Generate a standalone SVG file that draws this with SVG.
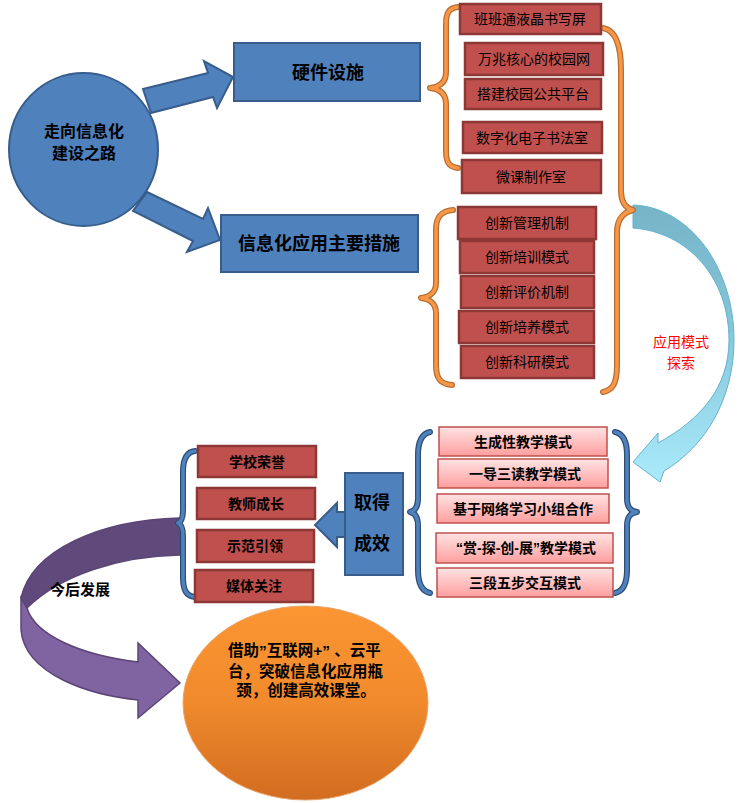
<svg xmlns="http://www.w3.org/2000/svg" width="740" height="803" viewBox="0 0 740 803">
<style>
text{font-family:"Liberation Sans","Noto Sans CJK SC",sans-serif;fill:#000;}
.c{text-anchor:middle;}
.b{font-weight:bold;}
.blue{fill:#4F81BD;stroke:#385D8A;stroke-width:2;}
.red{fill:#C0504D;stroke:#8C3836;stroke-width:2.5;}
.pink{fill:url(#pk);stroke:#C0504D;stroke-width:1.5;}
.brO1{fill:none;stroke:#B66D31;stroke-width:6;stroke-linecap:round;stroke-linejoin:round;}
.brO2{fill:none;stroke:#F79646;stroke-width:3.5;stroke-linecap:round;stroke-linejoin:round;}
.brB1{fill:none;stroke:#2C4D75;stroke-width:6;stroke-linecap:round;stroke-linejoin:round;}
.brB2{fill:none;stroke:#4F81BD;stroke-width:3.5;stroke-linecap:round;stroke-linejoin:round;}
.t14{font-size:14px;}
.t18{font-size:18px;}
</style>
<defs>
<linearGradient id="pk" x1="0" y1="0" x2="0" y2="1">
<stop offset="0" stop-color="#FFE3E3"/><stop offset="1" stop-color="#FF9E9E"/>
</linearGradient>
<linearGradient id="cy" gradientUnits="userSpaceOnUse" x1="0" y1="205" x2="0" y2="482">
<stop offset="0" stop-color="#76B4C8"/><stop offset="0.45" stop-color="#86C6D9"/><stop offset="1" stop-color="#A9EAFB"/>
</linearGradient>
<linearGradient id="og" x1="0" y1="0" x2="0" y2="1">
<stop offset="0" stop-color="#FC9532"/><stop offset="0.5" stop-color="#F08A2C"/><stop offset="1" stop-color="#D26C20"/>
</linearGradient>
</defs>

<g id="connectors">
<polygon class="blue" points="143,89 208,73 204,61 233,77 217,108 213,97 151,113"/>
<polygon class="blue" points="147,192 203,219 208,208 220,240 187,252 193,241 133,211"/>
<polygon class="blue" points="347,512 337,512 337,503 315,525 337,547 337,537 347,537"/>
<path d="M180,518 C100,520 32,550 21,598 L27,608 C60,575 120,556 180,555 Z" fill="#604A7B" stroke="#5B4575" stroke-width="1.5"/>
<path d="M21,598 L21,630 C25,675 90,695 138,700 L138,718 L180,683 L138,643 L138,662 C80,655 35,635 27,608 Z" fill="#8064A2" stroke="#5B4575" stroke-width="1.5"/>
<path d="M633,205 C690,207 734,268 734,340 C734,398 706,446 664,471 L660,482 L633,462 L658,433 L658,443 C700,420 729,388 729,340 C729,278 688,232 633,228 Z" fill="url(#cy)" stroke="#62B3CF" stroke-width="1"/>
<g id="brace-hw">
<path class="brO1" d="M458,7 C448,8 446,14 446,25 L446,72 C446,82 440,87 430,88 C440,89 446,94 446,104 L446,150 C446,161 448,167 458,168"/>
<path class="brO2" d="M458,7 C448,8 446,14 446,25 L446,72 C446,82 440,87 430,88 C440,89 446,94 446,104 L446,150 C446,161 448,167 458,168"/>
</g>
<g id="brace-app">
<path class="brO1" d="M453,210 C440,211 436,218 436,230 L436,283 C436,292 430,297 421,298 C430,299 436,304 436,313 L436,365 C436,378 440,384 452,385"/>
<path class="brO2" d="M453,210 C440,211 436,218 436,230 L436,283 C436,292 430,297 421,298 C430,299 436,304 436,313 L436,365 C436,378 440,384 452,385"/>
</g>
<g id="brace-big">
<path class="brO1" d="M603,28 C615,30 621,45 621,70 L621,190 C621,202 625,208 633,210 C625,212 617,218 617,232 L617,365 C617,385 612,390 603,392"/>
<path class="brO2" d="M603,28 C615,30 621,45 621,70 L621,190 C621,202 625,208 633,210 C625,212 617,218 617,232 L617,365 C617,385 612,390 603,392"/>
</g>
<g id="brace-modes">
<path class="brB1" d="M430,432 C421,434 418,442 418,455 L418,498 C418,507 415,511 410,512 C415,513 418,517 418,526 L418,570 C418,583 421,591 430,593"/>
<path class="brB2" d="M430,432 C421,434 418,442 418,455 L418,498 C418,507 415,511 410,512 C415,513 418,517 418,526 L418,570 C418,583 421,591 430,593"/>
<path class="brB1" d="M615,432 C624,434 627,442 627,455 L627,498 C627,507 630,511 637,512 C630,513 627,517 627,526 L627,570 C627,583 624,591 615,593"/>
<path class="brB2" d="M615,432 C624,434 627,442 627,455 L627,498 C627,507 630,511 637,512 C630,513 627,517 627,526 L627,570 C627,583 624,591 615,593"/>
</g>
<g id="brace-results">
<path class="brB1" d="M195,451 C186,452 183,460 183,472 L183,510 C183,518 181,522 178,523 C181,524 183,528 183,536 L183,577 C183,590 186,596 195,597"/>
<path class="brB2" d="M195,451 C186,452 183,460 183,472 L183,510 C183,518 181,522 178,523 C181,524 183,528 183,536 L183,577 C183,590 186,596 195,597"/>
</g>
<text x="681" y="347" class="c t14" style="fill:#FF0000">应用模式</text>
<text x="681" y="368" class="c t14" style="fill:#FF0000">探索</text>
<text x="50" y="595" class="b" style="font-size:15px">今后发展</text>
</g>

<g id="root">
<ellipse cx="83.5" cy="149.5" rx="74.5" ry="76.5" class="blue" stroke-width="2.5"/>
<text x="84" y="137" class="c b" style="font-size:16px">走向信息化</text>
<text x="84" y="159" class="c b" style="font-size:16px">建设之路</text>
</g>
<g id="hardware">
<rect x="234" y="43" width="186" height="58" class="blue"/>
<text x="328" y="78.5" class="c b t18">硬件设施</text>
</g>
<g id="measures">
<rect x="221" y="215" width="197" height="57" class="blue"/>
<text x="319" y="250" class="c b t18">信息化应用主要措施</text>
</g>

<g id="hw1"><rect x="460" y="4" width="141" height="30" class="red"/><text x="530" y="24" class="c t14">班班通液晶书写屏</text></g>
<g id="hw2"><rect x="465" y="43" width="138" height="32" class="red"/><text x="534" y="64" class="c t14">万兆核心的校园网</text></g>
<g id="hw3"><rect x="465" y="79" width="136" height="30" class="red"/><text x="533" y="99" class="c t14">搭建校园公共平台</text></g>
<g id="hw4"><rect x="463" y="122" width="139" height="31" class="red"/><text x="532" y="143" class="c t14">数字化电子书法室</text></g>
<g id="hw5"><rect x="462" y="160" width="139" height="33" class="red"/><text x="531" y="182" class="c t14">微课制作室</text></g>

<g id="m1"><rect x="458" y="207" width="138" height="32" class="red"/><text x="527" y="228" class="c t14">创新管理机制</text></g>
<g id="m2"><rect x="460" y="241" width="134" height="32" class="red"/><text x="527" y="262" class="c t14">创新培训模式</text></g>
<g id="m3"><rect x="461" y="276" width="133" height="32" class="red"/><text x="527" y="297" class="c t14">创新评价机制</text></g>
<g id="m4"><rect x="459" y="311" width="135" height="32" class="red"/><text x="527" y="332" class="c t14">创新培养模式</text></g>
<g id="m5"><rect x="461" y="346" width="133" height="32" class="red"/><text x="527" y="367" class="c t14">创新科研模式</text></g>

<g id="p1"><rect x="439" y="427" width="168" height="29" class="pink"/><text x="523" y="446.5" class="c b t14">生成性教学模式</text></g>
<g id="p2"><rect x="438" y="459" width="170" height="29" class="pink"/><text x="525" y="478.5" class="c b t14">一导三读教学模式</text></g>
<g id="p3"><rect x="437" y="494" width="172" height="29" class="pink"/><text x="523" y="513.5" class="c b t14">基于网络学习小组合作</text></g>
<g id="p4"><rect x="436" y="533" width="177" height="30" class="pink"/><text x="526" y="553" class="c b t14">“赏-探-创-展”教学模式</text></g>
<g id="p5"><rect x="437" y="568" width="176" height="29" class="pink"/><text x="525" y="587.5" class="c b t14">三段五步交互模式</text></g>

<g id="results">
<rect x="345" y="473" width="58" height="102" class="blue"/>
<text x="372" y="508.5" class="c b t18">取得</text>
<text x="372" y="549.5" class="c b t18">成效</text>
</g>
<g id="r1"><rect x="198" y="446" width="118" height="31" class="red"/><text x="257" y="466.5" class="c b t14">学校荣誉</text></g>
<g id="r2"><rect x="197" y="488" width="118" height="31" class="red"/><text x="256" y="508.5" class="c b t14">教师成长</text></g>
<g id="r3"><rect x="197" y="530" width="117" height="32" class="red"/><text x="255" y="551" class="c b t14">示范引领</text></g>
<g id="r4"><rect x="195" y="570" width="118" height="32" class="red"/><text x="254" y="591" class="c b t14">媒体关注</text></g>

<g id="future">
<ellipse cx="305.5" cy="703" rx="122.5" ry="97" fill="url(#og)" stroke="#E9A46A" stroke-width="1"/>
<text x="228" y="656" class="b" style="font-size:15.5px">借助”互联网+” 、云平</text>
<text x="228" y="677" class="b" style="font-size:15.5px">台，突破信息化应用瓶</text>
<text x="232" y="695.5" class="b" style="font-size:15.5px" xml:space="preserve"> 颈，创建高效课堂。</text>
</g>
</svg>
